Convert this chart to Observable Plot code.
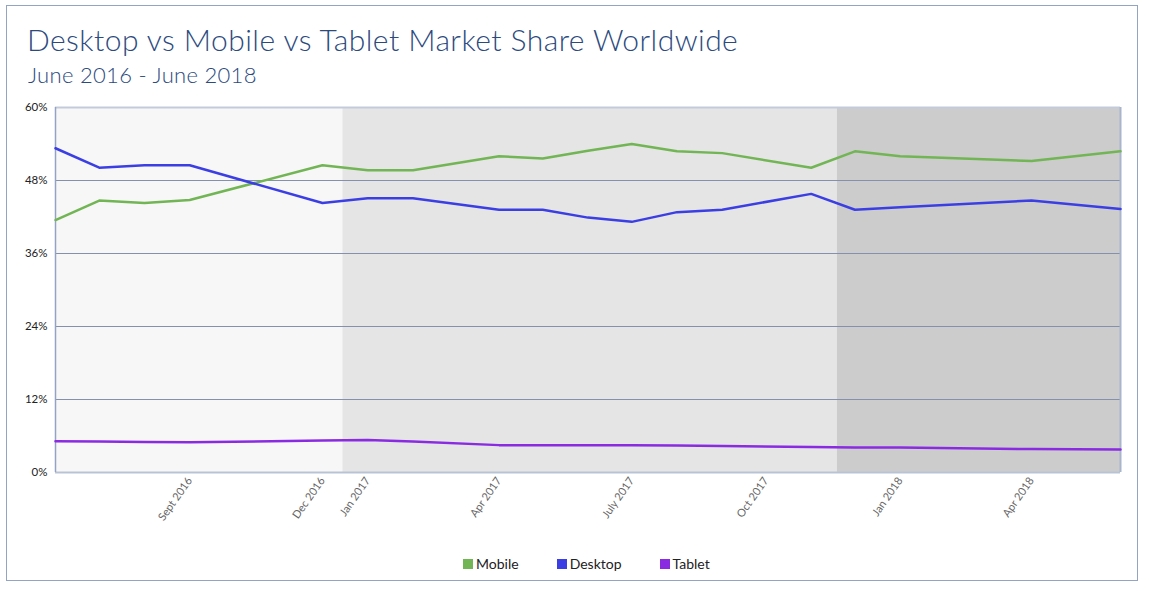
<!DOCTYPE html>
<html>
<head>
<meta charset="utf-8">
<script src="https://cdn.jsdelivr.net/npm/d3@7"></script>
<script src="https://cdn.jsdelivr.net/npm/@observablehq/plot@0.6"></script>
<style>
  html, body { margin: 0; padding: 0; background: #fff; }
  #wrap { position: relative; width: 1149px; height: 591px; overflow: hidden; font-family: Lato, "Open Sans", sans-serif; }
  #frame { position: absolute; left: 6px; top: 5px; width: 1132px; height: 576px; border: 1.5px solid #96a4c3; box-sizing: border-box; }
  #title { position: absolute; left: 27px; top: 21px; font-size: 30px; font-weight: 300; color: #2c4a7e; white-space: nowrap; letter-spacing: 0.45px; }
  #subtitle { position: absolute; left: 28px; top: 61px; font-size: 22px; font-weight: 300; color: #2c4a7e; white-space: nowrap; letter-spacing: 0.3px; }
  #chart { position: absolute; left: 0; top: 95px; }
  #legend { position: absolute; top: 555px; left: 463px; display: flex; gap: 38px; font-size: 14px; color: #222; }
  .item { display: flex; align-items: center; }
  .sw { width: 10px; height: 10px; margin-right: 3px; display: inline-block; }
</style>
</head>
<body>
<div id="wrap">
  <div id="frame"></div>
  <div id="title"></div>
  <div id="subtitle"></div>
  <div id="chart"></div>
  <div id="legend"></div>
</div>
<script>
// ---- data ----
const titleText = "Desktop vs Mobile vs Tablet Market Share Worldwide";
const subtitleText = "June 2016 - June 2018";
const dates = ["2016-06-01","2016-07-01","2016-08-01","2016-09-01","2016-12-01","2017-01-01","2017-02-01","2017-04-01","2017-05-01","2017-06-01","2017-07-01","2017-08-01","2017-09-01","2017-11-01","2017-12-01","2018-01-01","2018-04-01","2018-06-01"];
const mobile  = [41.5,44.7,44.3,44.8,50.5,49.7,49.7,52.0,51.6,52.9,54.0,52.8,52.5,50.1,52.8,52.0,51.2,52.8];
const desktop = [53.3,50.1,50.5,50.5,44.3,45.1,45.1,43.2,43.2,41.9,41.2,42.8,43.2,45.8,43.2,43.6,44.7,43.3];
const tablet  = [5.15,5.1,5.0,4.97,5.25,5.35,5.1,4.5,4.5,4.5,4.5,4.45,4.35,4.2,4.1,4.1,3.85,3.8];
const seriesNames = ["Mobile","Desktop","Tablet"];
const seriesColors = ["#72b554","#3b3fe3","#8a2be2"];
const tickDates = ["2016-09-01","2016-12-01","2017-01-01","2017-04-01","2017-07-01","2017-10-01","2018-01-01","2018-04-01"];
const tickLabels = ["Sept 2016","Dec 2016","Jan 2017","Apr 2017","July 2017","Oct 2017","Jan 2018","Apr 2018"];
const yTicks = [0,12,24,36,48,60];
const periodStart = ["2016-06-01","2016-12-15","2017-11-19"];
const periodEnd   = ["2016-12-15","2017-11-19","2018-06-01"];
const periodFill  = ["#f7f7f7","#e5e5e5","#cccccc"];

// ---- build ----
document.getElementById("title").textContent = titleText;
document.getElementById("subtitle").textContent = subtitleText;

const parse = d3.utcParse("%Y-%m-%d");
const values = [mobile, desktop, tablet];
const rows = seriesNames.flatMap((s, i) => dates.map((d, j) => ({series: s, date: parse(d), value: values[i][j]})));
const bands = periodStart.map((s, i) => ({x1: parse(s), x2: parse(periodEnd[i]), fill: periodFill[i]}));
const tks = tickDates.map(parse);
const labelOf = new Map(tks.map((t, i) => [+t, tickLabels[i]]));
const x0 = parse(dates[0]), x1 = parse(dates[dates.length - 1]);

const plot = Plot.plot({
  width: 1149,
  height: 440,
  marginTop: 12,
  marginBottom: 63,
  marginLeft: 55,
  marginRight: 29,
  style: {background: "transparent", fontFamily: "Lato, 'Open Sans', sans-serif", fontSize: "11px", overflow: "visible"},
  x: {type: "utc", domain: [x0, x1]},
  y: {domain: [0, 60]},
  color: {domain: seriesNames, range: seriesColors},
  marks: [
    Plot.rect(bands, {x1: "x1", x2: "x2", y1: 0, y2: 60, fill: "fill"}),
    Plot.ruleY(yTicks.slice(1, -1), {stroke: "#8590ae", strokeWidth: 1}),
    Plot.ruleY([60], {stroke: "#c3cbdb", strokeWidth: 2}),
    Plot.ruleY([0], {stroke: "#b9c3d6", strokeWidth: 2}),
    Plot.ruleX([x1], {stroke: "#aab5cb", strokeWidth: 2}),
    Plot.ruleX([x0], {stroke: "#94a2c3", strokeWidth: 1.5}),
    Plot.axisY({ticks: yTicks, tickSize: 0, tickPadding: 8, tickFormat: d => d + "%", fill: "#222", fontSize: 11.5, label: null}),
    Plot.axisX({ticks: tks, tickSize: 0, tickPadding: 6, tickRotate: -55, tickFormat: d => labelOf.get(+d), fill: "#666", fontSize: 11, label: null}),
    Plot.line(rows, {x: "date", y: "value", z: "series", stroke: "series", strokeWidth: 2.5, curve: "linear"})
  ]
});
document.getElementById("chart").appendChild(plot);

const legend = document.getElementById("legend");
seriesNames.forEach((s, i) => {
  const it = document.createElement("div");
  it.className = "item";
  const sw = document.createElement("span");
  sw.className = "sw";
  sw.style.background = seriesColors[i];
  const tx = document.createElement("span");
  tx.textContent = s;
  it.appendChild(sw); it.appendChild(tx);
  legend.appendChild(it);
});
</script>
</body>
</html>
